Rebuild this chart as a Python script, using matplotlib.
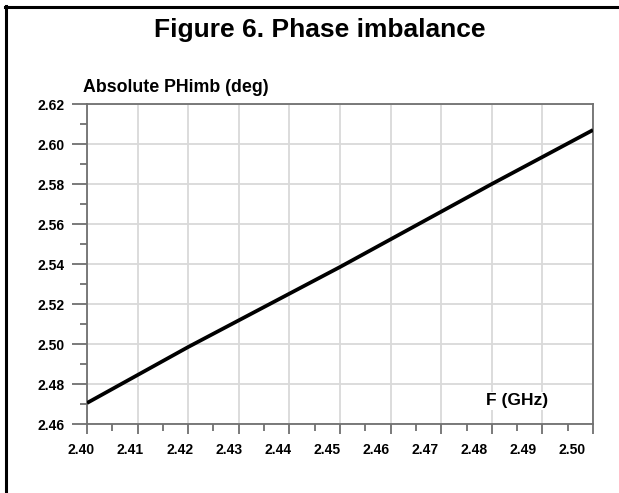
import numpy as np
import matplotlib
matplotlib.use("Agg")
import matplotlib.pyplot as plt
import matplotlib.transforms as mtransforms
from matplotlib.lines import Line2D
from matplotlib.ticker import MultipleLocator

plt.rcParams['font.family'] = ['Liberation Sans', 'DejaVu Sans']
plt.rcParams['font.weight'] = 'bold'

# frequency (GHz) vs absolute phase imbalance (deg)
freq = [2.40, 2.42, 2.45, 2.48, 2.50]
phimb = [2.4705, 2.4985, 2.5385, 2.580, 2.607]

x_ticks = [2.40, 2.41, 2.42, 2.43, 2.44, 2.45, 2.46, 2.47, 2.48, 2.49, 2.50]
y_ticks = [2.46, 2.48, 2.50, 2.52, 2.54, 2.56, 2.58, 2.60, 2.62]

fig = plt.figure(figsize=(6.19, 4.93), dpi=100)
ax = fig.add_axes([87 / 619, 1 - 424 / 493, 506 / 619, 320 / 493])

grid_c = '#d9d9d9'
spine_c = '#707070'

ax.plot(freq, phimb, color='black', linewidth=2.7, solid_capstyle='butt', zorder=3)

ax.set_xlim(2.40, 2.50)
ax.set_ylim(2.46, 2.62)
ax.set_xticks(x_ticks)
ax.set_xticklabels(['%.2f' % v for v in x_ticks])
ax.set_yticks(y_ticks)
ax.set_yticklabels(['%.2f' % v for v in y_ticks])
ax.xaxis.set_minor_locator(MultipleLocator(0.005))
ax.yaxis.set_minor_locator(MultipleLocator(0.01))

ax.grid(True, which='major', color=grid_c, linewidth=1.3)
ax.set_axisbelow(True)

for s in ax.spines.values():
    s.set_color(spine_c)
    s.set_linewidth(1.3)

ax.tick_params(axis='y', which='major', length=11, width=1.3, color=spine_c,
               labelsize=10, pad=5)
ax.tick_params(axis='y', which='minor', length=5, width=1.3, color=spine_c)
ax.tick_params(axis='x', which='major', length=7, width=1.3, color=spine_c,
               labelsize=10, pad=7)
ax.tick_params(axis='x', which='minor', length=5, width=1.3, color=spine_c)

# the x labels in the original drift a little to the left of their ticks
for i, lab in enumerate(ax.get_xticklabels()):
    shift = -(4 + 1.1 * i) / 72
    lab.set_transform(lab.get_transform() +
                      mtransforms.ScaledTranslation(shift, 0, fig.dpi_scale_trans))

ax.text(0.789, 0.072, 'F (GHz)', transform=ax.transAxes, fontsize=12.5,
        fontweight='bold', ha='left', va='center',
        bbox=dict(facecolor='white', edgecolor='none', pad=1), zorder=4)

fig.text(83 / 619, 1 - 88 / 493, 'Absolute PHimb (deg)', fontsize=12.8,
         fontweight='bold', ha='left', va='center')
fig.text(320 / 619, 1 - 30 / 493, 'Figure 6. Phase imbalance', fontsize=19,
         fontweight='bold', ha='center', va='center')

# outer frame (top and left edges)
fig.add_artist(Line2D([5 / 619, 1.0], [1 - 7 / 493, 1 - 7 / 493],
                      transform=fig.transFigure, color='black', linewidth=2.2))
fig.add_artist(Line2D([6 / 619, 6 / 619], [0.0, 1 - 6 / 493],
                      transform=fig.transFigure, color='black', linewidth=2.2))

fig.savefig('out.png', dpi=100, facecolor='white')
